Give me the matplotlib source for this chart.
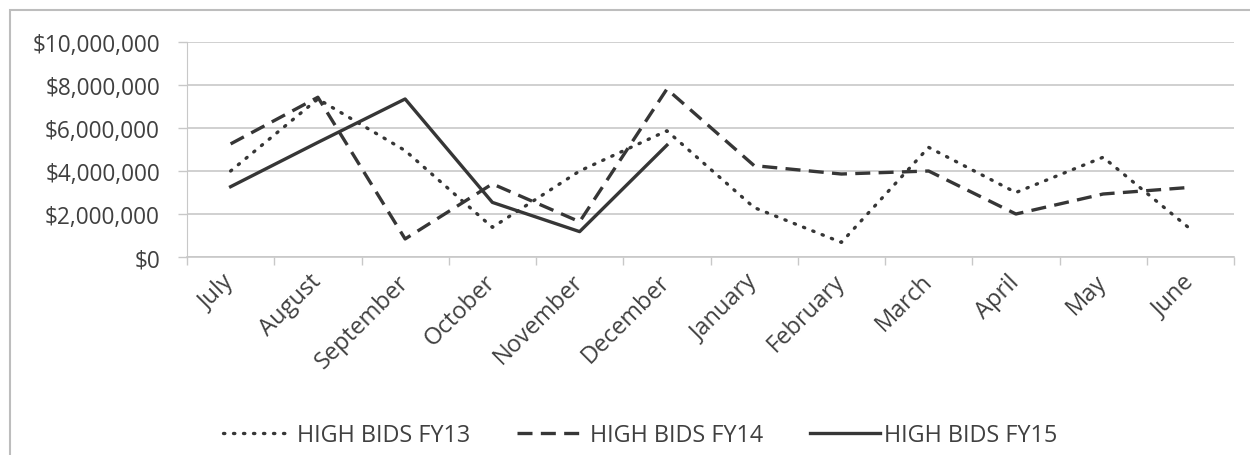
import matplotlib.pyplot as plt
from matplotlib.patches import Rectangle
from matplotlib.ticker import FuncFormatter

# values (dollars)
months = ['July', 'August', 'September', 'October', 'November', 'December',
          'January', 'February', 'March', 'April', 'May', 'June']
fy13 = [4.0e6, 7.35e6, 4.95e6, 1.38e6, 4.0e6, 5.87e6,
        2.3e6, 0.68e6, 5.1e6, 3.0e6, 4.64e6, 1.3e6]
fy14 = [5.26e6, 7.43e6, 0.84e6, 3.4e6, 1.64e6, 7.81e6,
        4.25e6, 3.86e6, 4.0e6, 2.0e6, 2.93e6, 3.24e6]
fy15 = [3.27e6, 5.33e6, 7.35e6, 2.54e6, 1.18e6, 5.2e6]
series_names = ['HIGH BIDS FY13', 'HIGH BIDS FY14', 'HIGH BIDS FY15']

plt.rcParams['font.family'] = ['Open Sans', 'DejaVu Sans']
ink = '#363636'
txt = '#404040'
grid_c = '#c8c8c8'
fs = 16.3

fig = plt.figure(figsize=(12.5, 4.56), dpi=100)
ax = fig.add_axes([0.1496, 0.4342, 0.8376, 0.4715])

# outer chart frame (top and left edges visible in the reference)
fig.patches.append(Rectangle((10 / 1250, -0.1), 1.2, 1 - 11 / 456 + 0.1,
                             transform=fig.transFigure, fill=False,
                             edgecolor='#bdbdbd', linewidth=1.5))

x = list(range(len(months)))
ax.plot(x, fy13, color=ink, lw=2.4, linestyle=(0, (0.4, 2.6)),
        dash_capstyle='round', label=series_names[0])
ax.plot(x, fy14, color=ink, lw=2.4, linestyle=(0, (4.5, 2.5)),
        label=series_names[1])
ax.plot(x[:len(fy15)], fy15, color=ink, lw=2.4, label=series_names[2])

ax.set_xlim(-0.5, len(months) - 0.5)
ax.set_ylim(0, 10e6)
ax.set_yticks([0, 2e6, 4e6, 6e6, 8e6, 10e6])
ax.yaxis.set_major_formatter(FuncFormatter(lambda v, p: '${:,.0f}'.format(v)))
ax.set_xticks([i - 0.5 for i in range(len(months) + 1)], minor=False)
ax.set_xticklabels([])
ax.set_xticks(x, minor=True)
ax.set_xticklabels(months, minor=True, rotation=45, ha='right', va='center',
                   rotation_mode='anchor', fontsize=17, color=txt)
ax.tick_params(axis='x', which='minor', length=0, pad=15)
ax.tick_params(axis='x', which='major', length=6, color=grid_c, width=1)
ax.tick_params(axis='y', length=6.5, color=grid_c, width=1, pad=13,
               labelsize=fs, labelcolor=txt)

ax.grid(axis='y', color=grid_c, lw=1.2)
ax.set_axisbelow(True)
for s in ['top', 'right']:
    ax.spines[s].set_visible(False)
ax.spines['left'].set_color(grid_c)
ax.spines['bottom'].set_color(grid_c)
ax.spines['bottom'].set_linewidth(1.2)

leg = fig.legend(loc='center', bbox_to_anchor=(0.512, 1 - 436 / 456), ncol=3,
                 frameon=False, fontsize=16.8, handlelength=3.0,
                 handletextpad=0.15, columnspacing=2.0)
for t in leg.get_texts():
    t.set_color(txt)

fig.savefig('out.png', dpi=100)
